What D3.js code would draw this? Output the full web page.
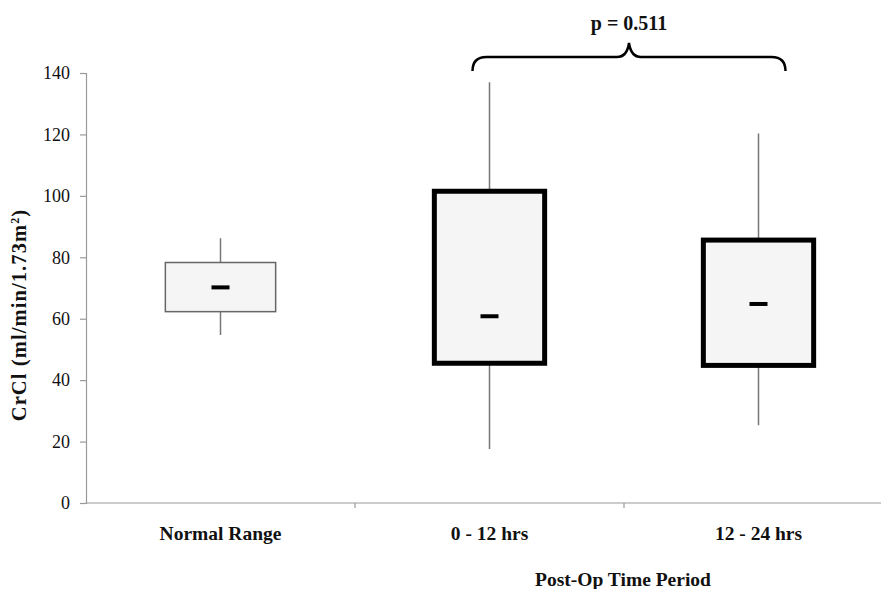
<!DOCTYPE html>
<html>
<head>
<meta charset="utf-8">
<script src="https://cdn.jsdelivr.net/npm/d3@7"></script>
<style>
  body { margin: 0; background: #fff; }
  svg { display: block; font-family: "Liberation Serif", "Times New Roman", serif; }
</style>
</head>
<body>
<div id="chart"></div>
<script>
// box plot values
const categories  = ["Normal Range", "0 - 12 hrs", "12 - 24 hrs"];
const whiskerLow  = [54.7, 17.6, 25.3];
const q1          = [62.3, 45.5, 44.8];
const medians     = [70.2, 60.8, 64.8];
const q3          = [78.3, 101.5, 85.6];
const whiskerHigh = [86.2, 137, 120.3];
const yTicks      = [0, 20, 40, 60, 80, 100, 120, 140];
const pLabel      = "p = 0.511";

function boxplot () {
    const width = 881;
    const height = 589;
    const margin = { top: 73, left: 86, bottom: 86 };
    const bandW = 269;

    const svg = d3.select("#chart").append("svg")
        .attr("width", width)
        .attr("height", height);

    const x = d3.scaleBand()
        .domain(categories)
        .range([margin.left, margin.left + bandW * categories.length])
        .padding(0);
    const y = d3.scaleLinear().domain([0, 140]).range([height - margin.bottom, margin.top]);

    const cx = d => x(d) + x.bandwidth() / 2;
    const boxW = x.bandwidth() * 0.41;

    // y axis
    const yAxis = svg.append('g')
        .attr('transform', 'translate(' + margin.left + ',0)')
        .call(d3.axisLeft(y).tickValues(yTicks).tickSize(6).tickPadding(10));
    yAxis.select('.domain').attr('stroke', '#999').attr('stroke-width', 1.2);
    yAxis.selectAll('.tick line').attr('stroke', '#999').attr('stroke-width', 1.2);
    yAxis.selectAll('.tick text')
        .attr('font-size', 18)
        .attr('font-family', '"Liberation Serif", serif')
        .attr('fill', '#111');

    // x axis: ticks between categories
    const xAxis = svg.append('g')
        .attr('transform', 'translate(0,' + y(0) + ')');
    xAxis.append('line')
        .attr('x1', margin.left).attr('x2', width)
        .attr('stroke', '#999').attr('stroke-width', 1.2);
    xAxis.selectAll('line.tk').data(categories.slice(1))
        .join('line').attr('class', 'tk')
        .attr('x1', d => x(d)).attr('x2', d => x(d))
        .attr('y1', 0).attr('y2', 5)
        .attr('stroke', '#999').attr('stroke-width', 1.2);
    xAxis.selectAll('text').data(categories)
        .join('text')
        .attr('x', d => cx(d))
        .attr('y', 37)
        .attr('text-anchor', 'middle')
        .attr('font-size', 19.5)
        .attr('font-weight', 'bold')
        .attr('fill', '#111')
        .text(d => d);

    // axis titles
    svg.append('text')
        .attr('transform', 'translate(26,' + 315 + ') rotate(-90)')
        .attr('text-anchor', 'middle')
        .attr('font-size', 20.5)
        .attr('letter-spacing', 1.1)
        .attr('font-weight', 'bold')
        .attr('fill', '#111')
        .html('CrCl (ml/min/1.73m<tspan baseline-shift="super" font-size="12">2</tspan>)');

    svg.append('text')
        .attr('x', 623)
        .attr('y', 586)
        .attr('text-anchor', 'middle')
        .attr('font-size', 19.5)
        .attr('font-weight', 'bold')
        .attr('fill', '#111')
        .text('Post-Op Time Period');

    // whiskers
    const g = svg.append('g');
    g.selectAll('line.whisker').data(categories)
        .join('line').attr('class', 'whisker')
        .attr('x1', d => cx(d)).attr('x2', d => cx(d))
        .attr('y1', (d, i) => y(whiskerLow[i]))
        .attr('y2', (d, i) => y(whiskerHigh[i]))
        .attr('stroke', '#777')
        .attr('stroke-width', 1.5);

    // boxes
    g.selectAll('rect.box').data(categories)
        .join('rect').attr('class', 'box')
        .attr('x', d => cx(d) - boxW / 2)
        .attr('width', boxW)
        .attr('y', (d, i) => y(q3[i]))
        .attr('height', (d, i) => y(q1[i]) - y(q3[i]))
        .attr('fill', '#f5f5f5')
        .attr('stroke', (d, i) => i === 0 ? '#666' : '#000')
        .attr('stroke-width', (d, i) => i === 0 ? 1.5 : 5);

    // medians
    g.selectAll('rect.med').data(categories)
        .join('rect').attr('class', 'med')
        .attr('x', d => cx(d) - 9)
        .attr('width', 18)
        .attr('y', (d, i) => y(medians[i]) - 2)
        .attr('height', 4)
        .attr('fill', '#000');

    // significance brace
    const x0 = cx(categories[1]) - 17;
    const x1 = cx(categories[2]) + 27;
    const xm = (x0 + x1) / 2;
    const yb = 71, ym = 57, yt = 43;
    const brace = 'M' + x0 + ',' + yb +
        ' Q' + x0 + ',' + ym + ' ' + (x0 + 14) + ',' + ym +
        ' L' + (xm - 12) + ',' + ym +
        ' Q' + (xm - 2) + ',' + ym + ' ' + xm + ',' + yt +
        ' Q' + (xm + 2) + ',' + ym + ' ' + (xm + 12) + ',' + ym +
        ' L' + (x1 - 14) + ',' + ym +
        ' Q' + x1 + ',' + ym + ' ' + x1 + ',' + yb;
    svg.append('path')
        .attr('d', brace)
        .attr('fill', 'none')
        .attr('stroke', '#000')
        .attr('stroke-width', 2.5);

    svg.append('text')
        .attr('x', xm)
        .attr('y', 30)
        .attr('text-anchor', 'middle')
        .attr('font-size', 20)
        .attr('font-weight', 'bold')
        .attr('fill', '#111')
        .text(pLabel);
}
boxplot()
</script>
</body>
</html>
